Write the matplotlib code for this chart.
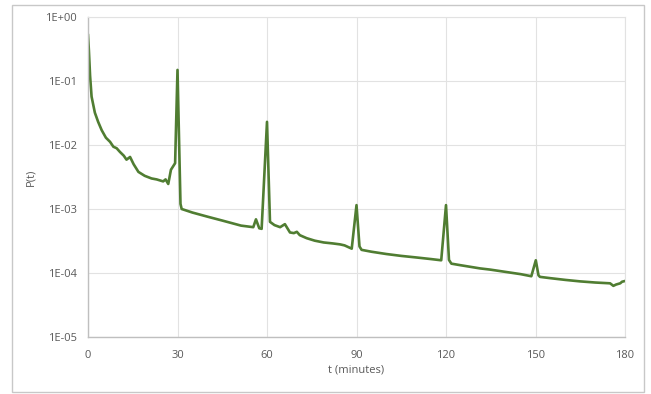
import matplotlib
matplotlib.use('Agg')
import matplotlib.pyplot as plt
from matplotlib.patches import Rectangle

# t in minutes, P(t)
t = [0, 0.3, 0.7, 1.2, 2.3, 3.4, 4.6, 6.0, 7.4, 8.5, 9.6, 10.7, 12.0, 12.9, 14.1,
     15.3, 16.9, 19.0, 21.3, 23.0, 25.2, 26.0, 26.9, 27.8, 29.2, 30.0, 31.0, 31.4,
     35.0, 40.0, 45.0, 51.3, 55.4, 56.3, 57.4, 58.2, 60.0, 61.0, 62.5, 64.4, 66.0,
     67.7, 69.0, 70.0, 71.0, 73.3, 76.0, 79.0, 82.0, 84.5, 86.0, 88.4, 90.0, 91.0,
     91.7, 95.0, 100.0, 105.0, 110.0, 115.0, 118.4, 120.0, 121.0, 121.8, 125.0,
     131.4, 134.8, 140.0, 145.0, 148.6, 150.1, 151.0, 151.5, 155.0, 160.0, 164.9,
     170.0, 175.0, 176.1, 177.0, 178.4, 179.0, 180.0]
P = [0.52, 0.30, 0.12, 0.057, 0.032, 0.023, 0.017, 0.013, 0.0112, 0.0094, 0.0089,
     0.0078, 0.0068, 0.0059, 0.0065, 0.0050, 0.0038, 0.0033, 0.0030, 0.0029, 0.0027,
     0.0029, 0.00246, 0.0041, 0.0052, 0.149, 0.0012, 0.00100,
     0.00088, 0.00076, 0.00066, 0.00055, 0.00052, 0.00069, 0.00050, 0.00049, 0.023,
     0.00063, 0.00056, 0.00052, 0.00058, 0.00043, 0.00042, 0.00044, 0.00039, 0.00035,
     0.00032, 0.00030, 0.00029, 0.00028, 0.00027, 0.00024, 0.00115, 0.00026,
     0.00023, 0.000215, 0.000198, 0.000185, 0.000175, 0.000165, 0.000158, 0.00115,
     0.00016, 0.00014, 0.000132, 0.000118, 0.000113, 0.000104, 0.000096, 0.000089,
     0.000158, 0.000092, 0.000087, 0.000083, 0.000078, 0.000074, 0.000071, 0.000069,
     0.000063, 0.000066, 0.000069, 0.000073, 0.000075]

x_ticks = [0, 30, 60, 90, 120, 150, 180]
y_ticks = [1e0, 1e-1, 1e-2, 1e-3, 1e-4, 1e-5]
y_labels = ['1E+00', '1E-01', '1E-02', '1E-03', '1E-04', '1E-05']

txt = '#595959'
plt.rcParams['font.family'] = ['Open Sans', 'DejaVu Sans']

fig = plt.figure(figsize=(6.51, 3.94), dpi=100)
fig.patches.append(Rectangle((12 / 651, 1 - 392 / 394), 632 / 651, 387 / 394,
                             transform=fig.transFigure, fill=False,
                             edgecolor='#c8c8c8', linewidth=1))
ax = fig.add_axes([88 / 651, 1 - 337 / 394, 537 / 651, 320 / 394])

ax.plot(t, P, color='#507d32', linewidth=1.9)

ax.set_yscale('log')
ax.set_xlim(0, 180)
ax.set_ylim(1e-5, 1)
ax.set_xticks(x_ticks)
ax.set_yticks(y_ticks)
ax.set_yticklabels(y_labels)
ax.minorticks_off()
ax.tick_params(length=0, labelsize=8, colors=txt, pad=8)
ax.tick_params(axis='x', pad=9)
ax.grid(True, color='#e2e2e2', linewidth=0.8)
for s in ['top', 'right']:
    ax.spines[s].set_color('#e2e2e2')
    ax.spines[s].set_linewidth(0.8)
for s in ['left', 'bottom']:
    ax.spines[s].set_color('#bfbfbf')
    ax.spines[s].set_linewidth(1)

ax.set_xlabel('t (minutes)', fontsize=8, color=txt, labelpad=3)
ax.set_ylabel('P(t)', fontsize=8, color=txt, labelpad=6)

fig.savefig('out.png', dpi=100)
